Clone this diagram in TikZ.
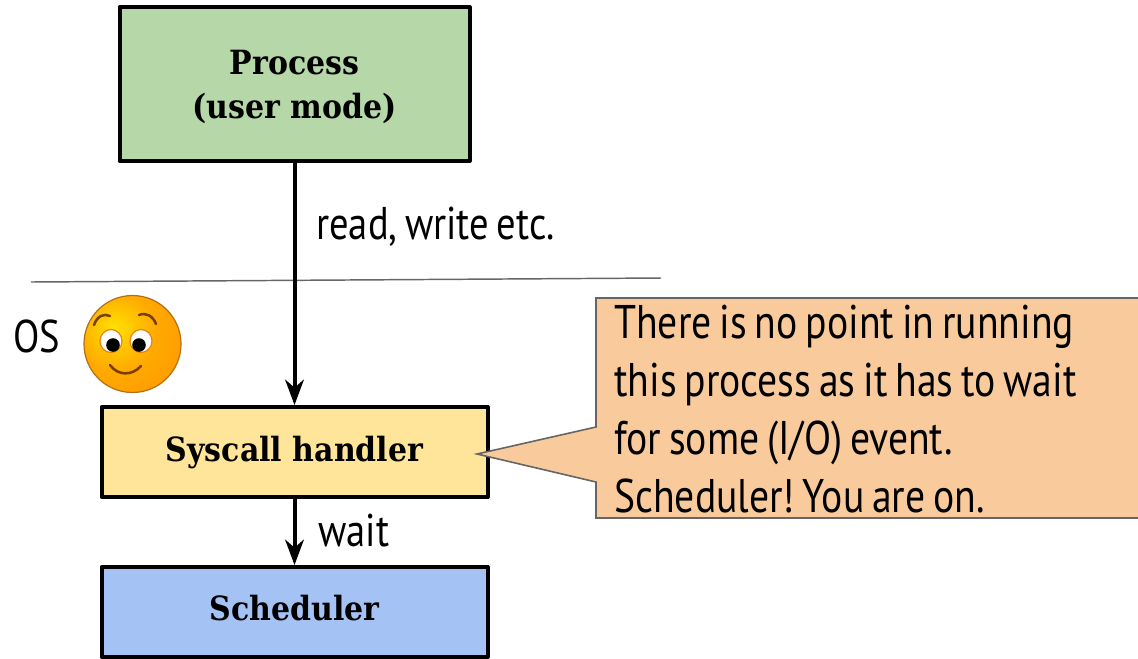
\documentclass[tikz,border=0pt]{standalone}
\usepackage{fontspec}
\setmainfont[FakeStretch=0.84,WordSpace=0.75]{PT Sans}
\newfontfamily\slabfont[FakeStretch=0.9]{DejaVu Serif}
\usetikzlibrary{arrows.meta}
\frenchspacing
\definecolor{procgreen}{HTML}{B6D7A8}
\definecolor{sysyellow}{HTML}{FFE599}
\definecolor{schedblue}{HTML}{A4C2F4}
\definecolor{calloutfill}{HTML}{F9CB9C}
\definecolor{greyline}{HTML}{666666}
\definecolor{facebrown}{HTML}{7A3E00}
\definecolor{glowa}{RGB}{255,226,0}
\definecolor{glowb}{RGB}{255,170,0}
\definecolor{glowc}{RGB}{255,150,0}
\pgfdeclareradialshading{faceglow}{\pgfpoint{-10bp}{8bp}}{color(0bp)=(glowa);color(20bp)=(glowb);color(42bp)=(glowc);color(100bp)=(glowc)}
\tikzset{
  blockbox/.style={draw=black,line width=3pt,line join=round,inner sep=0pt,align=center,font=\slabfont\bfseries\fontsize{25}{33}\selectfont},
  flowarrow/.style={draw=black,line width=3pt,-{Stealth[length=19pt,width=14pt,inset=6pt]}},
  lbl/.style={inner sep=0pt,anchor=base west,font=\fontsize{34.4}{40}\selectfont},
  calloutlbl/.style={inner sep=0pt,anchor=base west,font=\fontsize{35.4}{42}\selectfont},
  eyewhite/.style={fill=white,draw=orange!70!brown,line width=0.9pt},
  facestroke/.style={draw=facebrown,line width=1.9pt,line cap=round},
}
\begin{document}
\begin{tikzpicture}[x=0.75pt,y=-0.75pt]
\useasboundingbox (0,0) rectangle (1138,658);
\clip (0,0) rectangle (1138,658);
% separator
\draw[draw=greyline,line width=1.1pt] (31,282) coordinate (sepl) -- (661,278) coordinate (sepr);
% boxes
\node[blockbox,fill=procgreen,minimum width=262.5pt,minimum height=115.5pt] (proc) at (294.5,84) {\raisebox{-25.5pt}[0pt][0pt]{\parbox[b]{250pt}{\centering Process\\(user mode)}}};
\node[blockbox,fill=sysyellow,minimum width=289.5pt,minimum height=67.5pt] (sys) at (294.5,452) {\raisebox{-6.75pt}[0pt][0pt]{Syscall handler}};
\node[blockbox,fill=schedblue,minimum width=289.5pt,minimum height=67.5pt] (sched) at (294.5,612) {\raisebox{-6.5pt}[0pt][0pt]{Scheduler}};
% connectors
\draw[flowarrow] (proc.south) -- (sys.north);
\draw[flowarrow] (sys.south) -- (sched.north);
% labels
\node[lbl] (lread) at (316,239) {read, write etc.};
\node[lbl] (lwait) at (318,546) {wait};
\node[lbl] (los) at (13,352) {OS};
% callout
\draw[fill=calloutfill,draw=greyline,line width=1.2pt,line join=miter]
  (596,298) -- (1139,298) -- (1139,518) -- (596,518) -- (596,482) -- (477,454) -- (596,427) -- cycle;
\node[calloutlbl] (c1) at (614,338) {There is no point in running};
\node[calloutlbl] (c2) at (614,396) {this process as it has to wait};
\node[calloutlbl] (c3) at (614,454) {for some (I/O) event.};
\node[calloutlbl] (c4) at (614,512) {Scheduler! You are on.};
% smiley
\shade[shading=faceglow,draw={rgb,255:red,180;green,110;blue,20},line width=0.9pt] (132.5,344) circle [radius=48.5];
\draw[eyewhite] (111,341) ellipse [x radius=11,y radius=11.5];
\draw[eyewhite] (141,341) ellipse [x radius=11,y radius=11.5];
\fill[black] (113,345) circle [radius=6.8];
\fill[black] (139,345) circle [radius=6.8];
\draw[facestroke] (94,325) .. controls (97,316) and (104,313) .. (110,316);
\draw[facestroke] (139,315) .. controls (146,312) and (153,316) .. (156,324);
\draw[facestroke] (110,365) .. controls (118,376) and (132,376) .. (141,366);
\end{tikzpicture}
\end{document}
